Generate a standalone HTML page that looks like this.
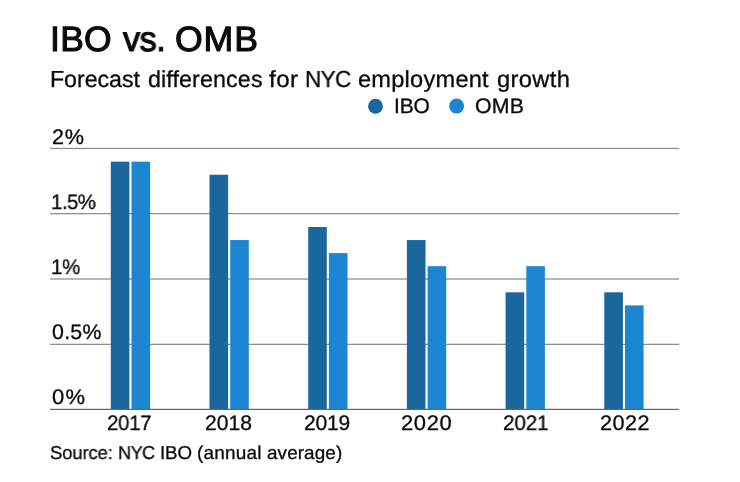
<!DOCTYPE html>
<html><head><meta charset="utf-8">
<style>
html,body{margin:0;padding:0;background:#fff;}
body{width:740px;height:482px;position:relative;overflow:hidden;font-family:"Liberation Sans",sans-serif;color:#0a0a0a;}
.t{position:absolute;white-space:nowrap;line-height:1;text-rendering:geometricPrecision;transform-origin:0 0;will-change:transform;}
svg{position:absolute;left:0;top:0;}
</style></head><body>
<svg width="740" height="482" viewBox="0 0 740 482">
<rect x="50" y="147.83" width="629.2" height="1.24" fill="#8c8c8c"/>
<rect x="50" y="213.03" width="629.2" height="1.24" fill="#8c8c8c"/>
<rect x="50" y="278.38" width="629.2" height="1.24" fill="#8c8c8c"/>
<rect x="50" y="343.73" width="629.2" height="1.24" fill="#8c8c8c"/>
<rect x="110.8" y="161.66" width="18.6" height="247.73" fill="#1a669e"/>
<rect x="131.5" y="161.66" width="18.6" height="247.73" fill="#1d86d2"/>
<rect x="209.5" y="174.73" width="18.6" height="234.67" fill="#1a669e"/>
<rect x="230.2" y="240.05" width="18.6" height="169.35" fill="#1d86d2"/>
<rect x="308.2" y="226.99" width="18.6" height="182.41" fill="#1a669e"/>
<rect x="328.9" y="253.12" width="18.6" height="156.28" fill="#1d86d2"/>
<rect x="406.9" y="240.05" width="18.6" height="169.35" fill="#1a669e"/>
<rect x="427.6" y="266.18" width="18.6" height="143.22" fill="#1d86d2"/>
<rect x="505.6" y="292.31" width="18.6" height="117.09" fill="#1a669e"/>
<rect x="526.3" y="266.18" width="18.6" height="143.22" fill="#1d86d2"/>
<rect x="604.3" y="292.31" width="18.6" height="117.09" fill="#1a669e"/>
<rect x="625.0" y="305.38" width="18.6" height="104.02" fill="#1d86d2"/>
<rect x="50" y="408.78" width="629.2" height="1.24" fill="#666666"/>
<circle cx="375.5" cy="106.2" r="7.45" fill="#1a669e"/>
<circle cx="456.6" cy="106.1" r="7.5" fill="#1d86d2"/>
</svg>
<div class="t" id="t1" style="left:49.7px;top:21.9px;font-size:35.0px;letter-spacing:0.28px;transform:scaleX(1.014);-webkit-text-stroke:1.1px #0a0a0a;">IBO</div>
<div class="t" id="t2" style="left:122.7px;top:21.9px;font-size:35.0px;letter-spacing:-0.46px;transform:scaleX(0.977);-webkit-text-stroke:1.1px #0a0a0a;">vs.</div>
<div class="t" id="t3" style="left:174.9px;top:21.9px;font-size:35.0px;letter-spacing:0.83px;transform:scaleX(1.02);-webkit-text-stroke:1.1px #0a0a0a;">OMB</div>
<div class="t" id="s1" style="left:49.5px;top:68.1px;font-size:23.2px;letter-spacing:-0.04px;transform:scaleX(0.998);-webkit-text-stroke:0.3px #0a0a0a;">Forecast</div>
<div class="t" id="s2" style="left:147.5px;top:68.1px;font-size:23.2px;letter-spacing:0.09px;transform:scaleX(1.006);-webkit-text-stroke:0.3px #0a0a0a;">differences</div>
<div class="t" id="s3" style="left:268.8px;top:68.1px;font-size:23.2px;letter-spacing:0.43px;transform:scaleX(1.037);-webkit-text-stroke:0.3px #0a0a0a;">for</div>
<div class="t" id="s4" style="left:304.7px;top:68.1px;font-size:23.2px;letter-spacing:-0.67px;transform:scaleX(0.975);-webkit-text-stroke:0.3px #0a0a0a;">NYC</div>
<div class="t" id="s5" style="left:357.7px;top:68.1px;font-size:23.2px;letter-spacing:0.23px;transform:scaleX(1.018);-webkit-text-stroke:0.3px #0a0a0a;">employment</div>
<div class="t" id="s6" style="left:496.5px;top:68.1px;font-size:23.2px;letter-spacing:0.31px;transform:scaleX(1.024);-webkit-text-stroke:0.3px #0a0a0a;">growth</div>
<div class="t" id="l1" style="left:393.5px;top:96.0px;font-size:21.0px;letter-spacing:-0.14px;transform:scaleX(0.999);-webkit-text-stroke:0.3px #0a0a0a;">IBO</div>
<div class="t" id="l2" style="left:474.5px;top:96.0px;font-size:21.0px;letter-spacing:0.25px;transform:scaleX(1.015);-webkit-text-stroke:0.3px #0a0a0a;">OMB</div>
<div class="t" id="y4" style="left:51.7px;top:127.1px;font-size:21.0px;letter-spacing:0.7px;transform:scaleX(1.029);-webkit-text-stroke:0.3px #0a0a0a;">2%</div>
<div class="t" id="y3" style="left:50.8px;top:192.0px;font-size:21.0px;letter-spacing:-0.53px;transform:scaleX(0.971);-webkit-text-stroke:0.3px #0a0a0a;">1.5%</div>
<div class="t" id="y2" style="left:50.8px;top:257.1px;font-size:21.0px;letter-spacing:-0.55px;transform:scaleX(0.98);-webkit-text-stroke:0.3px #0a0a0a;">1%</div>
<div class="t" id="y1" style="left:51.8px;top:322.4px;font-size:21.0px;letter-spacing:0.27px;transform:scaleX(1.015);-webkit-text-stroke:0.3px #0a0a0a;">0.5%</div>
<div class="t" id="y0" style="left:51.5px;top:386.5px;font-size:21.0px;letter-spacing:1.31px;transform:scaleX(1.046);-webkit-text-stroke:0.3px #0a0a0a;">0%</div>
<div class="t" id="x0" style="left:106.5px;top:412.5px;font-size:21.0px;letter-spacing:-0.36px;transform:scaleX(0.976);-webkit-text-stroke:0.3px #0a0a0a;">2017</div>
<div class="t" id="x1" style="left:204.5px;top:412.5px;font-size:21.0px;letter-spacing:0.06px;transform:scaleX(1.003);-webkit-text-stroke:0.3px #0a0a0a;">2018</div>
<div class="t" id="x2" style="left:303.5px;top:412.5px;font-size:21.0px;letter-spacing:-0.19px;transform:scaleX(0.995);-webkit-text-stroke:0.3px #0a0a0a;">2019</div>
<div class="t" id="x3" style="left:400.6px;top:412.5px;font-size:21.0px;letter-spacing:0.58px;transform:scaleX(1.046);-webkit-text-stroke:0.3px #0a0a0a;">2020</div>
<div class="t" id="x4" style="left:502.7px;top:412.5px;font-size:21.0px;letter-spacing:-0.18px;transform:scaleX(0.987);-webkit-text-stroke:0.3px #0a0a0a;">2021</div>
<div class="t" id="x5" style="left:599.7px;top:412.5px;font-size:21.0px;letter-spacing:0.46px;transform:scaleX(1.032);-webkit-text-stroke:0.3px #0a0a0a;">2022</div>
<div class="t" id="c1" style="left:49.7px;top:444.0px;font-size:18.7px;letter-spacing:-0.15px;transform:scaleX(0.991);-webkit-text-stroke:0.3px #0a0a0a;">Source:</div>
<div class="t" id="c2" style="left:117.7px;top:444.0px;font-size:18.7px;letter-spacing:-0.56px;transform:scaleX(0.972);-webkit-text-stroke:0.3px #0a0a0a;">NYC</div>
<div class="t" id="c3" style="left:159.5px;top:444.0px;font-size:18.7px;letter-spacing:-0.13px;transform:scaleX(0.996);-webkit-text-stroke:0.3px #0a0a0a;">IBO</div>
<div class="t" id="c4" style="left:196.8px;top:444.0px;font-size:18.7px;letter-spacing:0.17px;transform:scaleX(1.017);-webkit-text-stroke:0.3px #0a0a0a;">(annual</div>
<div class="t" id="c5" style="left:266.8px;top:444.0px;font-size:18.7px;letter-spacing:0.11px;transform:scaleX(1.009);-webkit-text-stroke:0.3px #0a0a0a;">average)</div>
</body></html>
